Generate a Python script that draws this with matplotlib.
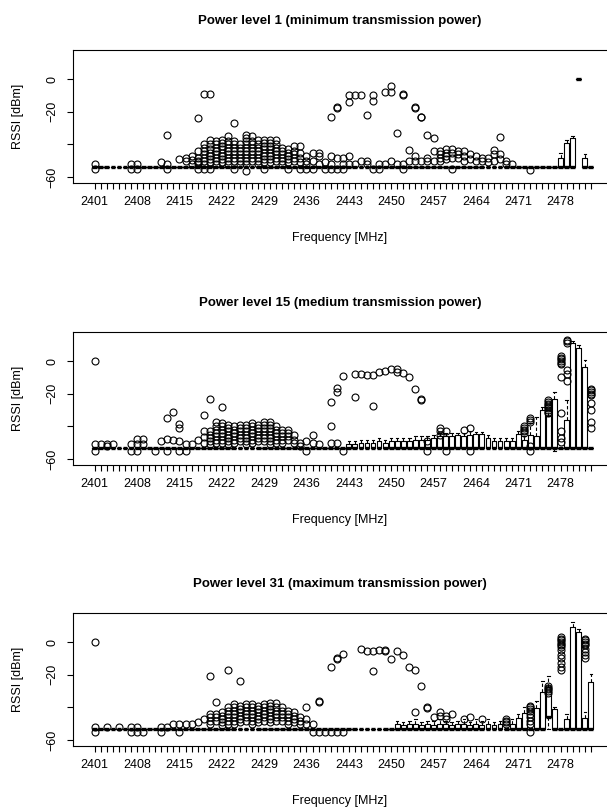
import numpy as np
import matplotlib.pyplot as plt

plt.rcParams['font.family'] = ['Liberation Sans', 'DejaVu Sans']

# 2.4 GHz channels, one box per MHz
channels = list(range(2401, 2484))
tick_labels = [2401, 2408, 2415, 2422, 2429, 2436, 2443, 2450, 2457, 2464, 2471, 2478]

titles = ['Power level 1 (minimum transmission power)',
          'Power level 15 (medium transmission power)',
          'Power level 31 (maximum transmission power)']

# level of the flat boxes (min, q1, median, q3 all equal)
base_levels = [-54, -53, -53]

# boxes that are not flat: channel -> (whisker low, q1, median, q3, whisker high)
p1_boxes = {
    2478: (-54, -54, -54, -48, -45),
    2479: (-54, -54, -54, -39, -37),
    2480: (-54, -54, -54, -36, -35),
    2481: (0, 0, 0, 0, 0),
    2482: (-54, -54, -54, -48, -46),
}
p2_boxes = {
    2443: (-53, -53, -53, -51, -49), 2444: (-53, -53, -53, -51, -49),
    2445: (-53, -53, -53, -50, -48), 2446: (-53, -53, -53, -50, -48),
    2447: (-53, -53, -53, -50, -48), 2448: (-53, -53, -53, -49, -47),
    2449: (-53, -53, -53, -50, -48), 2450: (-53, -53, -53, -49, -47),
    2451: (-53, -53, -53, -49, -47), 2452: (-53, -53, -53, -49, -47),
    2453: (-53, -53, -53, -49, -47), 2454: (-53, -53, -53, -48, -46),
    2455: (-53, -53, -53, -48, -46), 2456: (-53, -53, -53, -48, -46),
    2457: (-53, -53, -53, -47, -45), 2458: (-53, -53, -53, -46, -44),
    2459: (-53, -53, -53, -46, -44), 2460: (-53, -53, -53, -46, -44),
    2461: (-53, -53, -53, -45, -44), 2462: (-53, -53, -53, -46, -44),
    2463: (-53, -53, -53, -45, -43), 2464: (-53, -53, -53, -44.5, -43.5),
    2465: (-53, -53, -53, -44.5, -43.5), 2466: (-53, -53, -53, -47, -45),
    2467: (-53, -53, -53, -49, -47), 2468: (-53, -53, -53, -49, -47),
    2469: (-53, -53, -53, -49, -47), 2470: (-53, -53, -53, -49, -47),
    2471: (-53, -53, -53, -44.5, -43), 2472: (-53, -53, -53, -48, -46),
    2473: (-53, -53, -53, -45, -38), 2474: (-53, -53, -53, -46, -34),
    2475: (-53, -53, -53, -30, -28), 2476: (-53, -53, -53, -33.5, -30),
    2477: (-55, -53, -53, -23.5, -19), 2478: (-53, -53, -53, -53, -53),
    2479: (-53, -53, -53, -36, -24), 2480: (-53, -53, -53, 11, 12),
    2481: (-53, -53, -53, 8, 10), 2482: (-53, -53, -53, -3.6, 0.6),
}
p3_boxes = {
    2451: (-53, -53, -53, -50, -48), 2452: (-53, -53, -53, -51, -49),
    2453: (-53, -53, -53, -50, -48), 2454: (-53, -53, -53, -50, -47),
    2455: (-53, -53, -53, -51, -49), 2456: (-53, -53, -53, -50, -48),
    2457: (-53, -53, -53, -51, -48), 2458: (-53, -53, -53, -50, -47),
    2459: (-53, -53, -53, -50, -48), 2460: (-53, -53, -53, -51, -49),
    2461: (-53, -53, -53, -50, -48), 2462: (-53, -53, -53, -50, -47),
    2463: (-53, -53, -53, -51, -49), 2464: (-53, -53, -53, -50, -47),
    2465: (-53, -53, -53, -51, -48), 2466: (-53, -53, -53, -50, -47),
    2467: (-53, -53, -53, -51, -49), 2468: (-53, -53, -53, -50, -48),
    2470: (-53, -53, -53, -50, -47), 2471: (-53, -53, -53, -46.5, -44),
    2472: (-53, -53, -53, -43.5, -40), 2474: (-53, -53, -53, -40.5, -36),
    2475: (-53, -53, -53, -30.8, -24), 2476: (-53, -46, -46, -27.6, -21),
    2477: (-53, -53, -53, -41, -40), 2479: (-53, -53, -53, -47, -44),
    2480: (-53, -53, -53, 9, 12), 2481: (-53, -53, -53, 6, 8),
    2482: (-53, -53, -53, -46.5, -43), 2483: (-53, -53, -53, -24.5, -19.6),
}

# outliers (open circles): channel -> RSSI values
p1_out = {
    2401: [-52, -55], 2407: [-52, -55], 2408: [-52, -55], 2412: [-51],
    2413: [-34, -52, -55], 2415: [-49], 2416: [-48, -50], 2417: [-47, -49.5, -52],
    2418: [-24, -44, -48, -50, -51, -52, -55],
    2419: [-9, -40, -42, -44, -46, -48, -50, -52, -55],
    2420: [-9, -37, -40, -43, -45, -47, -49, -51, -55],
    2421: [-38, -40, -42, -44, -46, -48, -50, -52],
    2422: [-37, -39, -41, -43, -45, -47, -49, -51],
    2423: [-35, -38, -40, -42, -44, -46, -48, -50, -52],
    2424: [-27, -38, -40, -42, -44, -46, -48, -50, -55],
    2425: [-40, -42, -44, -46, -48, -50, -52],
    2426: [-34, -36, -38, -40, -42, -44, -46, -48, -50, -52, -56],
    2427: [-35, -38, -40, -42, -44, -46, -48, -50],
    2428: [-37, -40, -42, -44, -46, -48, -50, -52],
    2429: [-37, -39, -41, -43, -45, -47, -49, -51, -55],
    2430: [-37, -39, -41, -43, -45, -47, -49, -51],
    2431: [-37, -40, -42, -44, -46, -48, -50],
    2432: [-42, -44, -46, -48, -50, -52],
    2433: [-43, -45, -47, -49, -51, -55],
    2434: [-41, -44, -46, -48, -50], 2435: [-41, -45, -48, -51, -55],
    2436: [-47, -50, -52, -55], 2437: [-45, -50, -55], 2438: [-45, -47, -52],
    2439: [-51, -55], 2440: [-23, -47, -52, -55], 2441: [-17, -17.5, -48, -55],
    2442: [-48, -52, -55], 2443: [-10, -14, -47, -52], 2444: [-10, -52],
    2445: [-10, -50], 2446: [-22, -50, -52], 2447: [-10, -13.5, -55],
    2448: [-52, -55], 2449: [-8, -52], 2450: [-4, -8, -50], 2451: [-33, -52],
    2452: [-9, -9.5, -52, -55], 2453: [-43.5, -50], 2454: [-17, -17.5, -47, -50],
    2455: [-23, -23.5, -50], 2456: [-34, -48, -50], 2457: [-36, -44, -50],
    2458: [-44, -46, -48, -50], 2459: [-43, -45, -47, -49],
    2460: [-43, -45, -48, -55], 2461: [-44, -46, -48], 2462: [-44, -47, -50],
    2463: [-46, -49], 2464: [-47, -50], 2465: [-48, -50], 2466: [-48, -51],
    2467: [-43.5, -46, -50], 2468: [-35.5, -46, -49], 2469: [-50, -52],
    2470: [-52], 2473: [-55.5],
}
p2_out = {
    2401: [0, -51, -55], 2402: [-51], 2403: [-51, -52], 2404: [-51],
    2407: [-51, -55], 2408: [-47.5, -51, -55], 2409: [-47.5, -51], 2411: [-55],
    2412: [-49], 2413: [-35, -47.5, -55], 2414: [-31, -48],
    2415: [-38.5, -41, -49, -55], 2416: [-51, -55], 2417: [-51], 2418: [-48],
    2419: [-33, -43, -46.5, -50], 2420: [-23, -43, -45, -47, -49, -51],
    2421: [-37, -40, -42, -44, -46, -48, -50],
    2422: [-28, -38, -40, -42, -44, -46, -48, -50],
    2423: [-39, -41, -43, -45, -47, -49, -51],
    2424: [-40, -42, -44, -46, -48, -50],
    2425: [-39, -41, -43, -45, -47, -49],
    2426: [-39, -41, -43, -45, -47, -49, -51],
    2427: [-38, -40, -42, -44, -46, -48, -50],
    2428: [-39, -41, -43, -45, -47, -49],
    2429: [-37, -39, -41, -43, -45, -47, -49],
    2430: [-37, -39, -41, -43, -45, -47, -49, -51],
    2431: [-39.5, -42, -44, -46, -48, -50], 2432: [-42, -44, -46, -48, -50],
    2433: [-42, -44, -46, -48], 2434: [-45.5, -48, -50], 2435: [-50, -52],
    2436: [-49, -55], 2437: [-45.5, -50], 2438: [-51],
    2440: [-25, -39.5, -50], 2441: [-16.5, -19, -50], 2442: [-9, -55],
    2443: [], 2444: [-8, -22], 2445: [-8], 2446: [-8.8], 2447: [-8.8, -27.5],
    2448: [-6.8], 2449: [-5.8], 2450: [-4.9], 2451: [-5, -6.5], 2452: [-7],
    2453: [-9.8], 2454: [-17], 2455: [-23.5, -24], 2456: [-49, -55],
    2458: [-41, -43, -45], 2459: [-43, -55], 2462: [-42],
    2463: [-41, -55], 2472: [-40, -41, -42, -43, -44],
    2473: [-35, -36, -37, -52, -55],
    2476: [-24, -25, -26, -27, -28, -29, -30, -31, -32],
    2478: [3, 2, 1, 0, -1, -2, -9.8, -32, -43, -47, -49.5],
    2479: [13, 12, 11, -5.6, -7.6, -12],
    2483: [-17, -18, -19, -20, -21, -25.6, -30, -37, -41],
}
p3_out = {
    2401: [0, -52, -55], 2403: [-52], 2405: [-52], 2407: [-52, -55],
    2408: [-52, -55], 2409: [-55], 2412: [-52, -55], 2413: [-52], 2414: [-50],
    2415: [-50, -55], 2416: [-50], 2417: [-50], 2418: [-49], 2419: [-47],
    2420: [-21, -44, -46, -48, -50], 2421: [-36.7, -44, -46, -48],
    2422: [-43, -45, -47, -49, -51],
    2423: [-17, -40, -42, -44, -46, -48, -50],
    2424: [-38, -40, -42, -44, -46, -48, -50],
    2425: [-23.8, -39, -41, -43, -45, -47, -49],
    2426: [-38, -40, -42, -44, -46, -48],
    2427: [-38, -40, -42, -44, -46, -48, -50],
    2428: [-39, -41, -43, -45, -47, -49],
    2429: [-38, -40, -42, -44, -46, -48],
    2430: [-37, -39, -41, -43, -45, -47, -49],
    2431: [-37, -40, -42, -44, -46, -48], 2432: [-40, -42, -44, -46, -48],
    2433: [-42, -44, -46, -48, -50], 2434: [-43, -45, -47, -49],
    2435: [-46, -48, -50], 2436: [-39.8, -47, -50], 2437: [-50, -55],
    2438: [-36, -36.5, -55], 2439: [-55], 2440: [-15, -55],
    2441: [-10, -10.5, -55], 2442: [-7, -55], 2445: [-4], 2446: [-5.5],
    2447: [-5.5, -17.5], 2448: [-5], 2449: [-5, -5.5], 2450: [-10.6],
    2451: [-5.3], 2452: [-8], 2453: [-15], 2454: [-17, -43], 2455: [-27],
    2456: [-40, -40.5], 2457: [-46], 2458: [-43, -45], 2459: [-45, -47],
    2460: [-44], 2462: [-47], 2463: [-46], 2465: [-47], 2469: [-47, -48, -49, -50],
    2473: [-39, -40, -41, -42, -44, -46, -48, -50, -55],
    2476: [-27, -28, -29, -30, -31],
    2478: [3, 2, 1, 0, -1, -2, -3, -5, -8, -10, -13, -15, -17],
    2482: [2, 1, 0, -1, -2, -4, -6, -8, -10],
}

panels = [(p1_boxes, p1_out), (p2_boxes, p2_out), (p3_boxes, p3_out)]

fig = plt.figure(figsize=(6.07, 8.11), dpi=100)

W, H = 607.0, 811.0
box_tops = [50, 332, 613]   # pixel rows of the plot frames
box_h = 133

for i, (boxes, outs) in enumerate(panels):
    top = box_tops[i]
    ax = fig.add_axes([73 / W, 1 - (top + box_h) / H, 545 / W, box_h / H])
    base = base_levels[i]
    stats = []
    for c in channels:
        lo, q1, med, q3, hi = boxes.get(c, (base, base, base, base, base))
        stats.append(dict(whislo=lo, q1=q1, med=med, q3=q3, whishi=hi,
                          fliers=np.array(outs.get(c, []), dtype=float), label=''))
    ax.bxp(stats, positions=channels, widths=0.8, showfliers=True,
           boxprops=dict(color='black', lw=0.8),
           medianprops=dict(color='black', lw=2.4, solid_capstyle='butt'),
           whiskerprops=dict(color='black', lw=0.8, linestyle=(0, (3, 2))),
           capprops=dict(color='black', lw=0.8),
           flierprops=dict(marker='o', markerfacecolor='none', markeredgecolor='black',
                           markersize=5.0, markeredgewidth=0.8, linestyle='none'))

    ax.set_xlim(2397.4, 2487.5)
    ax.set_ylim(-63.6, 17.8)
    ax.set_xticks(channels)
    ax.set_xticklabels([str(c) if c in tick_labels else '' for c in channels])
    ax.set_yticks([0, -20, -40, -60])
    ax.set_yticklabels(['0', '\u221220', '', '\u221260'], rotation=90, va='center')
    ax.tick_params(direction='out', length=4.5, width=0.8, labelsize=9, pad=6)
    ax.tick_params(axis='x', pad=5)
    for s in ax.spines.values():
        s.set_linewidth(0.8)

    fig.text(340 / W, 1 - (top - 29) / H, titles[i], ha='center', va='center',
             fontsize=9.5, fontweight='bold')
    fig.text(340 / W, 1 - (top + box_h + 55) / H, 'Frequency [MHz]', ha='center',
             va='center', fontsize=9)
    fig.text(18 / W, 1 - (top + box_h / 2) / H, 'RSSI [dBm]', ha='center', va='center',
             rotation=90, fontsize=9)

fig.savefig('out.png', dpi=100)
